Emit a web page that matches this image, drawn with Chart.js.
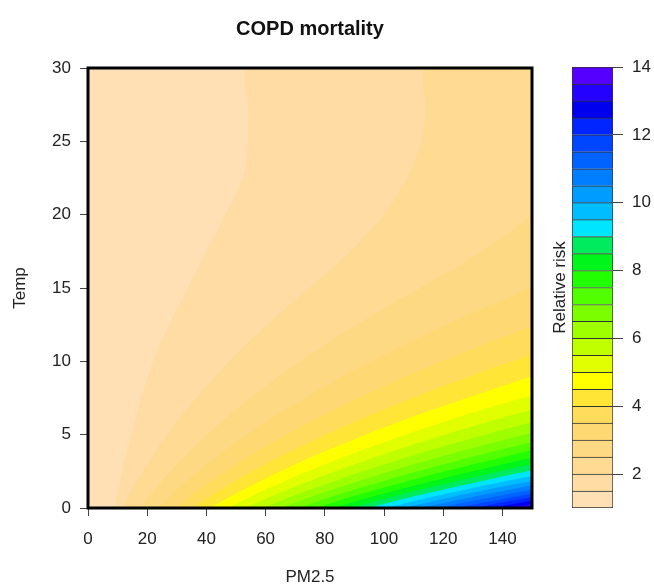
<!DOCTYPE html>
<html>
<head>
<meta charset="utf-8">
<script src="https://cdn.jsdelivr.net/npm/chart.js@4.4.1/dist/chart.umd.min.js"></script>
<style>
  html, body { margin: 0; padding: 0; background: #fff; }
  #wrap { position: relative; width: 654px; height: 588px; }
  #main { position: absolute; left: 0; top: 0; }
  #key { position: absolute; left: 540px; top: 0; }
</style>
</head>
<body>
<div id="wrap">
  <canvas id="main" width="654" height="588"></canvas>
  <canvas id="key" width="114" height="588"></canvas>
</div>
<script>
// axis ticks
const xTicks = [0, 20, 40, 60, 80, 100, 120, 140];
const yTicks = [0, 5, 10, 15, 20, 25, 30];
const keyTicks = [2, 4, 6, 8, 10, 12, 14];

// relative risk levels (band edges) and band colours
const levels = [1, 1.5, 2, 2.5, 3, 3.5, 4, 4.5, 5, 5.5, 6, 6.5, 7, 7.5, 8, 8.5, 9, 9.5, 10, 10.5, 11, 11.5, 12, 12.5, 13, 13.5, 14];
const bandColors = ['#FFE0B4', '#FEDCA3', '#FEDA93', '#FED983', '#FED973', '#FFDC5C', '#FFE535',
  '#FFFF00', '#E2FF00', '#C0FF00', '#9EFF00', '#7BFF00', '#52FF00', '#22FF00', '#00F51A', '#00EB5E',
  '#00E5FF', '#00BDFF', '#009CFF', '#007EFF', '#0062FF', '#0045FF', '#0025FF', '#0000EE', '#2400FF', '#5500FF'];

// contour lines, [PM2.5, Temp]
const rr1_0 = [[0, 0], [0, 30], [150, 30]];
const rr1_5 = [[9, 0], [11.5, 2.5], [14.6, 5], [18, 7.5], [22, 10], [27.3, 12.5], [33.7, 15], [40, 17.5], [46.3, 20], [50.5, 21.6], [53, 23], [54, 25], [54.2, 27], [54.2, 30], [150, 30]];
const rr2_0 = [[11.8, 0], [14.3, 1], [17.1, 2], [20.1, 3], [23.3, 4], [26.8, 5], [30.5, 6], [34.5, 7], [38.7, 8], [43.1, 9], [47.8, 10], [52.7, 11], [57.9, 12], [63.3, 13], [68.9, 14], [74.8, 15], [80.5, 16], [86, 17], [91, 18], [95.7, 19], [100, 20], [103.5, 21], [106.5, 22], [109, 23], [111, 24], [112.6, 25], [113.6, 26], [114.2, 27], [114.2, 30], [150, 30]];
const rr2_5 = [[17.7, 0], [21.5, 1], [25.6, 2], [30.1, 3], [35, 4], [40.2, 5], [45.8, 6], [51.7, 7], [58, 8], [64.7, 9], [71.7, 10], [79.1, 11], [86.8, 12], [94.9, 13], [103.4, 14], [112.2, 15], [120.8, 16], [129, 17], [136.5, 18], [143.6, 19], [150, 20]];
const rr3_0 = [[23.6, 0], [28.6, 1], [34.2, 2], [40.2, 3], [46.6, 4], [53.6, 5], [61, 6], [69, 7], [77.4, 8], [86.2, 9], [95.6, 10], [105.4, 11], [115.8, 12], [126.6, 13], [137.8, 14], [150, 15.05]];
const rr3_5 = [[29.5, 0], [35.8, 1], [42.7, 2], [50.2, 3], [58.3, 4], [67, 5], [76.3, 6], [86.2, 7], [96.7, 8], [107.8, 9], [119.5, 10], [131.8, 11], [144.7, 12], [150, 12.4]];
const rr4_0 = [[35.4, 0], [43, 1], [51.2, 2], [60.2, 3], [70, 4], [80.4, 5], [91.6, 6], [103.4, 7], [116, 8], [129.4, 9], [143.4, 10], [150, 10.45]];
const rr4_5 = [[41.3, 0], [50.1, 1], [59.8, 2], [70.3, 3], [81.6, 4], [93.8, 5], [106.8, 6], [120.7, 7], [135.4, 8], [150, 8.98]];
const rr5_0 = [[47.2, 0], [52.1, 0.5], [57.3, 1], [62.7, 1.5], [68.3, 2], [74.2, 2.5], [80.3, 3], [86.7, 3.5], [93.3, 4], [107.2, 5], [122.1, 6], [137.9, 7], [150, 7.65]];
const rr5_5 = [[53.1, 0], [58.6, 0.5], [64.4, 1], [70.5, 1.5], [76.9, 2], [83.5, 2.5], [90.4, 3], [97.5, 3.5], [104.9, 4], [120.6, 5], [137.3, 6], [150, 6.7]];
const rr6_0 = [[59, 0], [65.2, 0.5], [71.6, 1], [78.4, 1.5], [85.4, 2], [92.8, 2.5], [100.4, 3], [108.4, 3.5], [116.6, 4], [134, 5], [150, 5.85]];
const rr6_5 = [[64.9, 0], [71.7, 0.5], [78.8, 1], [86.2, 1.5], [93.9, 2], [102, 2.5], [110.4, 3], [119.2, 3.5], [128.3, 4], [147.4, 5], [150, 5.1]];
const rr7_0 = [[70.8, 0], [78.2, 0.5], [85.9, 1], [94, 1.5], [102.5, 2], [111.3, 2.5], [120.5, 3], [130, 3.5], [139.9, 4], [150, 4.48]];
const rr7_5 = [[76.7, 0], [84.7, 0.5], [93.1, 1], [101.9, 1.5], [111, 2], [120.6, 2.5], [130.5, 3], [140.9, 3.5], [150, 3.95]];
const rr8_0 = [[82.6, 0], [91.2, 0.5], [100.2, 1], [109.7, 1.5], [119.6, 2], [129.9, 2.5], [140.6, 3], [150, 3.42]];
const rr8_5 = [[88.5, 0], [97.7, 0.5], [107.4, 1], [117.5, 1.5], [128.1, 2], [139.1, 2.5], [150, 2.98]];
const rr9_0 = [[94.4, 0], [104.2, 0.5], [114.6, 1], [125.4, 1.5], [136.6, 2], [148.4, 2.5], [150, 2.55]];
const rr9_5 = [[100.3, 0], [110.8, 0.5], [121.7, 1], [133.2, 1.5], [145.2, 2], [150, 2.17]];
const rr10_0 = [[106.2, 0], [117.3, 0.5], [128.9, 1], [141, 1.5], [150, 1.82]];
const rr10_5 = [[112.1, 0], [123.8, 0.5], [136, 1], [148.9, 1.5], [150, 1.54]];
const rr11_0 = [[118, 0], [130.3, 0.5], [143.2, 1], [150, 1.25]];
const rr11_5 = [[123.9, 0], [136.8, 0.5], [150, 0.98]];
const rr12_0 = [[129.8, 0], [143.3, 0.5], [150, 0.73]];
const rr12_5 = [[135.7, 0], [149.8, 0.5], [150, 0.51]];
const rr13_0 = [[141.6, 0], [150, 0.28]];
const rr13_5 = [[147.5, 0], [150, 0.1]];

const contourLines = [rr1_0, rr1_5, rr2_0, rr2_5, rr3_0, rr3_5, rr4_0, rr4_5, rr5_0, rr5_5, rr6_0, rr6_5,
  rr7_0, rr7_5, rr8_0, rr8_5, rr9_0, rr9_5, rr10_0, rr10_5, rr11_0, rr11_5, rr12_0, rr12_5, rr13_0, rr13_5];

Chart.defaults.font.family = '"Liberation Sans", Arial, sans-serif';
Chart.defaults.color = '#222';

// thick box round the plotting region
const framePlugin = {
  id: 'frame',
  afterDatasetsDraw(chart) {
    const { ctx, chartArea: a } = chart;
    ctx.save();
    ctx.lineWidth = 3;
    ctx.strokeStyle = '#000';
    ctx.strokeRect(a.left, a.top, a.right - a.left, a.bottom - a.top);
    ctx.restore();
  }
};

// each band is filled from its lower contour to the bottom-right, higher levels on top
const bandSets = contourLines.map((pts, i) => ({
  data: pts.map(p => ({ x: p[0], y: p[1] })),
  fill: 'start',
  backgroundColor: bandColors[i],
  borderWidth: 0,
  borderColor: 'transparent',
  pointRadius: 0,
  tension: 0.25,
  order: contourLines.length - i
}));

new Chart(document.getElementById('main'), {
  type: 'line',
  data: { datasets: bandSets },
  options: {
    responsive: false,
    animation: false,
    events: [],
    layout: { padding: { left: 0, right: 122, top: 0, bottom: 0 } },
    plugins: {
      legend: { display: false },
      tooltip: { enabled: false },
      title: {
        display: true,
        fullSize: false,
        text: 'COPD mortality',
        color: '#111',
        font: { size: 20, weight: 'bold' },
        padding: { top: 17, bottom: 27 }
      }
    },
    scales: {
      x: {
        type: 'linear',
        min: 0,
        max: 150,
        afterBuildTicks: s => { s.ticks = xTicks.map(v => ({ value: v })); },
        afterFit: s => { s.height = 80; },
        ticks: { autoSkip: false, maxRotation: 0, padding: 13, font: { size: 17 } },
        grid: { drawOnChartArea: false, tickLength: 8, color: '#444' },
        border: { display: false },
        title: { display: true, text: 'PM2.5', font: { size: 17 }, padding: { top: 0, bottom: 0 } }
      },
      y: {
        type: 'linear',
        min: 0,
        max: 30,
        afterBuildTicks: s => { s.ticks = yTicks.map(v => ({ value: v })); },
        afterFit: s => { s.width = 88; },
        ticks: { autoSkip: false, padding: 9, font: { size: 17 } },
        grid: { drawOnChartArea: false, tickLength: 8, color: '#444' },
        border: { display: false },
        title: { display: true, text: 'Temp', font: { size: 17 }, padding: { top: 10, bottom: 0 } }
      }
    }
  },
  plugins: [framePlugin]
});

// colour key
const keySets = bandColors.map((c, i) => ({
  data: [[levels[i], levels[i + 1]]],
  backgroundColor: c,
  borderColor: '#333',
  borderWidth: i === 0 ? 1 : { top: 1, left: 1, right: 1, bottom: 0 },
  borderSkipped: false,
  grouped: false,
  barPercentage: 1,
  categoryPercentage: 1,
  yAxisID: 'y'
}));

new Chart(document.getElementById('key'), {
  type: 'bar',
  data: { labels: [''], datasets: keySets },
  options: {
    responsive: false,
    animation: false,
    events: [],
    layout: { padding: { left: 0, right: 0, top: 67, bottom: 80 } },
    plugins: { legend: { display: false }, tooltip: { enabled: false } },
    scales: {
      x: { display: false },
      y: {
        position: 'right',
        min: 1,
        max: 14,
        afterBuildTicks: s => { s.ticks = keyTicks.map(v => ({ value: v })); },
        afterFit: s => { s.width = 41; },
        ticks: { padding: 9, font: { size: 17 } },
        grid: { drawOnChartArea: false, tickLength: 10, color: '#444' },
        border: { display: false }
      },
      yl: {
        position: 'left',
        min: 1,
        max: 14,
        afterFit: s => { s.width = 32; },
        ticks: { display: false },
        grid: { display: false },
        border: { display: false },
        title: { display: true, text: 'Relative risk', font: { size: 17 }, padding: { top: 10, bottom: 0 } }
      }
    }
  }
});
</script>
</body>
</html>
